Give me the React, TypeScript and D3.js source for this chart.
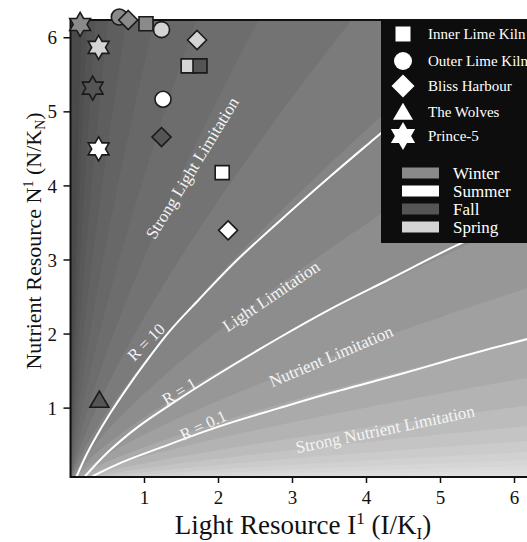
import React from 'react';
import * as d3 from 'd3';

// ---------- data ----------
const xTicks = [1, 2, 3, 4, 5, 6];
const yTicks = [1, 2, 3, 4, 5, 6];

// background shading: contour levels of log10 R and their grays
const bandLevels = [5.5, 5, 4.5, 4, 3.5, 3, 2.5, 2, 1.5, 1, 0.5, 0, -0.5, -1, -1.5, -2, -2.5, -3, -3.5, -4, -4.5, -5, -5.5];
const bandGrays = ['#4a4a4a', '#4f4f4f', '#545454', '#595959', '#5e5e5e', '#636363', '#686868', '#6d6d6d', '#737373', '#7b7b7b', '#848484', '#8d8d8d', '#979797', '#a0a0a0', '#aaaaaa', '#b3b3b3', '#bcbcbc', '#c4c4c4', '#cbcbcb', '#d1d1d1', '#d6d6d6', '#dadada', '#dddddd', '#e0e0e0'];
const bandModel = { base: 0.88, perDecade: 1.86, exponent: 0.77 };

// R curves: [I', N']
const curveR10: [number, number][] = [[0.08, 0.07], [0.2, 0.34], [0.35, 0.62], [0.53, 0.92], [0.75, 1.25], [1.0, 1.6], [1.34, 2.04], [1.74, 2.47], [2.2, 2.95], [2.82, 3.52], [3.5, 4.12], [4.04, 4.58], [4.6, 5.05], [5.2, 5.55], [5.9, 6.1], [6.2, 6.3]];
const curveR1: [number, number][] = [[0.19, 0.07], [0.5, 0.4], [0.93, 0.76], [1.4, 1.08], [1.9, 1.4], [2.82, 1.95], [3.5, 2.33], [4.31, 2.74], [5.16, 3.17], [6.2, 3.65]];
const curveR01: [number, number][] = [[0.3, 0.08], [0.7, 0.27], [1.2, 0.46], [2.0, 0.75], [2.82, 1.0], [3.5, 1.2], [4.5, 1.47], [5.3, 1.7], [6.2, 1.94]];

const seasons = ['Winter', 'Summer', 'Fall', 'Spring'];
const seasonFill: Record<string, string> = { Winter: '#8a8a8a', Summer: '#ffffff', Fall: '#555555', Spring: '#d4d4d4' };

type Obs = [number, number, string];
const innerLimeKiln: Obs[] = [[1.02, 6.19, 'Winter'], [1.59, 5.62, 'Spring'], [1.75, 5.62, 'Fall'], [2.05, 4.18, 'Summer']];
const outerLimeKiln: Obs[] = [[0.66, 6.28, 'Winter'], [1.23, 6.11, 'Spring'], [1.25, 5.17, 'Summer']];
const blissHarbour: Obs[] = [[0.78, 6.24, 'Winter'], [1.71, 5.97, 'Spring'], [1.23, 4.66, 'Fall'], [2.13, 3.40, 'Summer']];
const theWolves: Obs[] = [[0.39, 1.11, 'Fall']];
const prince5: Obs[] = [[0.13, 6.18, 'Winter'], [0.38, 5.87, 'Spring'], [0.30, 5.32, 'Fall'], [0.38, 4.50, 'Summer']];

const stations = [
  { name: 'Inner Lime Kiln', shape: 'square', obs: innerLimeKiln },
  { name: 'Outer Lime Kiln', shape: 'circle', obs: outerLimeKiln },
  { name: 'Bliss Harbour', shape: 'diamond', obs: blissHarbour },
  { name: 'The Wolves', shape: 'triangle', obs: theWolves },
  { name: 'Prince-5', shape: 'star', obs: prince5 },
];

// ---------- helpers ----------
function shapePath(shape: string, s: number): string {
  if (shape === 'square') return `M${-s},${-s}H${s}V${s}H${-s}Z`;
  if (shape === 'circle') return `M${s},0A${s},${s} 0 1,1 ${-s},0A${s},${s} 0 1,1 ${s},0Z`;
  if (shape === 'diamond') return `M0,${-s}L${s},0L0,${s}L${-s},0Z`;
  if (shape === 'triangle') {
    const h = s * 1.7;
    return `M0,${-h * 0.55}L${s},${h * 0.45}L${-s},${h * 0.45}Z`;
  }
  const pts: string[] = [];
  for (let k = 0; k < 12; k++) {
    const a = (-90 + 30 * k) * Math.PI / 180;
    const r = k % 2 === 0 ? s : s / Math.sqrt(3);
    pts.push(`${(r * Math.cos(a)).toFixed(2)},${(r * Math.sin(a)).toFixed(2)}`);
  }
  return 'M' + pts.join('L') + 'Z';
}
const plotSize: Record<string, number> = { square: 7, circle: 8, diamond: 9.5, triangle: 9.5, star: 12 };
const legendSize: Record<string, number> = { square: 7.5, circle: 9, diamond: 11.5, triangle: 10, star: 14 };

const W = 527, H = 542;
const x = d3.scaleLinear().domain([0, 6.2]).range([70.5, 529.3]);
const y = d3.scaleLinear().domain([0.07, 6.24]).range([477, 20]);
const plotL = 70.5, plotT = 20, plotB = 477, plotR = 540;

const FONT = '"Liberation Serif", "Times New Roman", "DejaVu Serif", serif';

export default function App() {
  const line = d3.line<[number, number]>().x(d => x(d[0])).y(d => y(d[1])).curve(d3.curveCatmullRom.alpha(0.5));

  const samples: number[] = [];
  for (let i = 0; i <= 60; i++) samples.push(0.0001 * Math.pow(10, i * 4 / 60));
  for (let v = 1.05; v <= 6.5; v += 0.05) samples.push(v);

  const bandPaths = bandLevels.map(r => {
    const a = bandModel.base * Math.pow(bandModel.perDecade, r);
    const pts = samples.map(I => [x(I), y(Math.min(30, a * Math.pow(I, bandModel.exponent)))]);
    let p = `M${x(0)},${y(0)}`;
    pts.forEach(([px, py]) => { p += `L${px.toFixed(2)},${py.toFixed(2)}`; });
    p += `L${plotR + 5},${pts[pts.length - 1][1].toFixed(2)}L${plotR + 5},${plotB + 10}L${plotL - 5},${plotB + 10}Z`;
    return p;
  });

  const labels = [
    { t: 'Strong Light Limitation', cx: 192, cy: 168, a: -58.5, fs: 17 },
    { t: 'Light Limitation', cx: 271, cy: 296, a: -34, fs: 17 },
    { t: 'R = 10', cx: 146, cy: 342, a: -45, fs: 16.5 },
    { t: 'R = 1', cx: 179, cy: 391, a: -31, fs: 16.5 },
    { t: 'R = 0.1', cx: 203, cy: 425, a: -25, fs: 16.5 },
    { t: 'Nutrient Limitation', cx: 331, cy: 356, a: -23, fs: 17 },
    { t: 'Strong Nutrient Limitation', cx: 385, cy: 429, a: -11.7, fs: 17 },
  ];

  return (
    <svg width={W} height={H} style={{ position: 'absolute', left: 0, top: 0, background: '#fff' }} fontFamily={FONT}>
      <defs>
        <clipPath id="plotclip">
          <rect x={plotL} y={plotT} width={plotR - plotL} height={plotB - plotT} />
        </clipPath>
      </defs>
      <g clipPath="url(#plotclip)">
        <rect x={plotL} y={plotT} width={plotR - plotL} height={plotB - plotT} fill={bandGrays[0]} />
        {bandPaths.map((p, i) => (
          <path key={i} d={p} fill={bandGrays[i + 1]} />
        ))}
        {[curveR10, curveR1, curveR01].map((c, i) => (
          <path key={i} d={line(c) || ''} fill="none" stroke="#fff" strokeWidth={2} />
        ))}
        {labels.map((l, i) => (
          <text key={i} transform={`translate(${l.cx},${l.cy}) rotate(${l.a})`} textAnchor="middle" dy="0.35em" fill="#f4f4f4" fontSize={l.fs}>{l.t}</text>
        ))}
      </g>
      <line x1={plotL} x2={W} y1={plotT} y2={plotT} stroke="#111" strokeWidth={2} />
      <line x1={plotL} x2={W} y1={plotB} y2={plotB} stroke="#111" strokeWidth={2} />
      <line x1={plotL} x2={plotL} y1={plotT - 1} y2={plotB + 1} stroke="#111" strokeWidth={2} />
      {xTicks.map(t => (
        <g key={t}>
          <line x1={x(t)} x2={x(t)} y1={plotB} y2={plotB + 6} stroke="#111" strokeWidth={1.5} />
          <text x={x(t)} y={504} textAnchor="middle" fontSize={19} fill="#111">{t}</text>
        </g>
      ))}
      {yTicks.map(t => (
        <g key={t}>
          <line x1={plotL - 7} x2={plotL} y1={y(t)} y2={y(t)} stroke="#111" strokeWidth={1.5} />
          <text x={57} y={y(t)} dy="0.35em" textAnchor="end" fontSize={19} fill="#111">{t}</text>
        </g>
      ))}
      <text x={303} y={534} textAnchor="middle" fontSize={27} fill="#111">
        Light Resource I<tspan dy={-10} fontSize={17}>1</tspan><tspan dy={10}> (I/K</tspan><tspan dy={5} fontSize={17}>I</tspan><tspan dy={-5}>)</tspan>
      </text>
      <text transform="translate(41,241) rotate(-90)" textAnchor="middle" fontSize={22} fill="#111">
        Nutrient Resource N<tspan dy={-8} fontSize={14}>1</tspan><tspan dy={8}> (N/K</tspan><tspan dy={4} fontSize={14}>N</tspan><tspan dy={-4}>)</tspan>
      </text>
      {stations.map(st => st.obs.map((o, i) => (
        <path key={st.name + i} d={shapePath(st.shape, plotSize[st.shape])} transform={`translate(${x(o[0])},${y(o[1])})`}
          fill={seasonFill[o[2]]} stroke="#1a1a1a" strokeWidth={1.6} strokeLinejoin="miter" />
      )))}
      <rect x={381} y={20} width={160} height={223} fill="#0d0d0d" />
      {stations.map((st, i) => {
        const cy = [34, 61, 86, 112, 136][i];
        return (
          <g key={st.name}>
            <path d={shapePath(st.shape, legendSize[st.shape])} transform={`translate(403,${cy})`} fill="#fff" />
            <text x={428} y={cy} dy="0.35em" fontSize={15} fill="#fff">{st.name}</text>
          </g>
        );
      })}
      {seasons.map((s, i) => {
        const cy = [173, 191, 209, 227][i];
        return (
          <g key={s}>
            <rect x={402} y={cy - 5.5} width={37} height={11} fill={seasonFill[s]} />
            <text x={453} y={cy} dy="0.33em" fontSize={17} fill="#fff">{s}</text>
          </g>
        );
      })}
    </svg>
  );
}
